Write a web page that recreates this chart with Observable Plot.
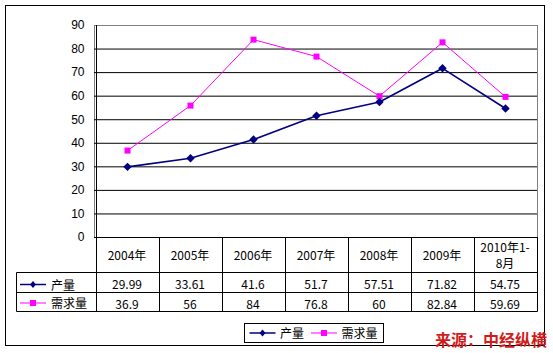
<!DOCTYPE html>
<html>
<head>
<meta charset="utf-8">
<script src="https://cdn.jsdelivr.net/npm/d3@7"></script>
<script src="https://cdn.jsdelivr.net/npm/@observablehq/plot@0.6"></script>
<style>
  html, body { margin: 0; padding: 0; background: #fff; }
  #chart svg { display: block; }
</style>
</head>
<body>
<div id="chart"></div>
<script>
// ---- data ----
const categories = ["2004年", "2005年", "2006年", "2007年", "2008年", "2009年", "2010年1-8月"];
const categoryLines = [["2004年"], ["2005年"], ["2006年"], ["2007年"], ["2008年"], ["2009年"], ["2010年1-", "8月"]];
const production = [29.99, 33.61, 41.6, 51.7, 57.51, 71.82, 54.75];
const demand = [36.9, 56, 84, 76.8, 60, 82.84, 59.69];
const seriesNames = ["产量", "需求量"];
const yTicks = [0, 10, 20, 30, 40, 50, 60, 70, 80, 90];
const sourceText = "来源：中经纵横";

const navy = "#000080";
const magenta = "#ff00ff";
const cjk = "'Noto Sans CJK SC', 'Noto Sans', sans-serif";

const rows = [
  ...categories.map((c, i) => ({cat: c, value: production[i], series: seriesNames[0]})),
  ...categories.map((c, i) => ({cat: c, value: demand[i], series: seriesNames[1]}))
];

// table + legend + border drawn through the x scale
function tableMark(index, scales) {
  const x = scales.x;
  const step = x(categories[1]) - x(categories[0]);
  const y0 = scales.y(0);
  const g = d3.create("svg:g");
  const r1 = 272.5, r2 = 292.5, r3 = 311.5;
  const left = 16.5;
  const colLeft = c => Math.round(x(c) - step / 2) + 0.5;
  const right = Math.round(x(categories[categories.length - 1]) + step / 2) + 0.5;

  // outer border
  g.append("rect").attr("x", 5.5).attr("y", 5.5).attr("width", 539).attr("height", 340)
    .attr("fill", "none").attr("stroke", "#000").attr("stroke-width", 1);

  // horizontal table lines
  for (const yy of [r1, r2, r3]) {
    g.append("line").attr("x1", left).attr("x2", right).attr("y1", yy).attr("y2", yy)
      .attr("stroke", "#000");
  }
  g.append("line").attr("x1", left).attr("x2", left).attr("y1", r1).attr("y2", r3).attr("stroke", "#000");
  // vertical column lines
  categories.forEach(c => {
    const xl = colLeft(c);
    g.append("line").attr("x1", xl).attr("x2", xl).attr("y1", y0).attr("y2", r3).attr("stroke", "#000");
  });
  g.append("line").attr("x1", right).attr("x2", right).attr("y1", y0).attr("y2", r3).attr("stroke", "#000");

  const txt = (tx, ty, t, anchor) => g.append("text").attr("x", tx).attr("y", ty)
    .attr("text-anchor", anchor).attr("dominant-baseline", "central")
    .attr("font-family", cjk).attr("font-size", 12).attr("fill", "#000").text(t);

  // category labels and values
  categories.forEach((c, i) => {
    const lines = categoryLines[i];
    const cy = (y0 + r1) / 2;
    lines.forEach((t, k) => txt(x(c), cy + (k - (lines.length - 1) / 2) * 16, t, "middle"));
    txt(x(c), (r1 + r2) / 2 + 1, String(production[i]), "middle");
    txt(x(c), (r2 + r3) / 2 + 1, String(demand[i]), "middle");
  });

  // legend keys
  function key(cx, cy, color, shape) {
    g.append("line").attr("x1", cx - 13).attr("x2", cx + 13).attr("y1", cy).attr("y2", cy)
      .attr("stroke", color).attr("stroke-width", shape === "diamond" ? 1.5 : 1);
    if (shape === "diamond") {
      g.append("path").attr("d", `M${cx},${cy - 3.5}L${cx + 3},${cy}L${cx},${cy + 3.5}L${cx - 3},${cy}Z`).attr("fill", color);
    } else {
      g.append("rect").attr("x", cx - 3).attr("y", cy - 3).attr("width", 6).attr("height", 6).attr("fill", color);
    }
  }
  key(33, 284.5, navy, "diamond");
  txt(51, 284, seriesNames[0], "start");
  key(33, 303, magenta, "square");
  txt(51, 302.5, seriesNames[1], "start");

  // bottom legend box
  g.append("rect").attr("x", 244.5).attr("y", 323.5).attr("width", 139).attr("height", 19)
    .attr("fill", "#fff").attr("stroke", "#000");
  key(262.5, 333, navy, "diamond");
  txt(280, 332.5, seriesNames[0], "start");
  key(324, 333, magenta, "square");
  txt(341.5, 332.5, seriesNames[1], "start");

  // source
  g.append("text").attr("x", 547).attr("y", 345.5).attr("text-anchor", "end")
    .attr("font-family", cjk).attr("font-size", 16).attr("font-weight", "bold")
    .attr("fill", "#d01c1c").text(sourceText);

  return g.node();
}

function axisLineMark(index, scales) {
  const g = d3.create("svg:g");
  const x0 = Math.round(scales.x(categories[0]) - (scales.x(categories[1]) - scales.x(categories[0])) / 2) + 0.5;
  g.append("line").attr("x1", x0).attr("x2", x0).attr("y1", scales.y(90)).attr("y2", scales.y(0))
    .attr("stroke", "#000");
  return g.node();
}

const chart = Plot.plot({
  width: 553,
  height: 353,
  marginLeft: 94,
  marginRight: 16,
  marginTop: 25,
  marginBottom: 116,
  style: {background: "#fff", fontFamily: "'Liberation Sans', Arial, sans-serif", fontSize: "12px", color: "#000"},
  x: {type: "point", domain: categories, padding: 0.5, axis: null},
  y: {domain: [0, 90], axis: null},
  marks: [
    Plot.frame({stroke: "#808080"}),
    Plot.ruleY(yTicks.filter(d => d < 90), {y: d => d, stroke: "#000"}),
    axisLineMark,
    Plot.text(yTicks, {y: d => d, text: d => String(d), frameAnchor: "left", dx: -10, textAnchor: "end",
      fill: "#000", fontSize: 12}),
    Plot.line(rows.filter(d => d.series === seriesNames[1]), {x: "cat", y: "value", stroke: magenta, strokeWidth: 1}),
    Plot.line(rows.filter(d => d.series === seriesNames[0]), {x: "cat", y: "value", stroke: navy, strokeWidth: 1.6}),
    Plot.dot(rows.filter(d => d.series === seriesNames[1]), {x: "cat", y: "value", symbol: "square", r: 3.4, fill: magenta, stroke: "none"}),
    Plot.dot(rows.filter(d => d.series === seriesNames[0]), {x: "cat", y: "value", symbol: "diamond2", r: 3.8, fill: navy, stroke: "none"}),
    tableMark
  ]
});
document.getElementById("chart").appendChild(chart);
</script>
</body>
</html>
